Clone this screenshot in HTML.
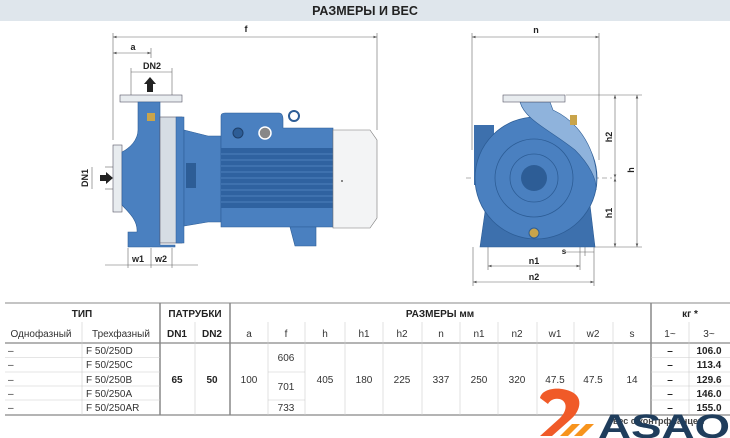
<!DOCTYPE html>
<html><head><meta charset="utf-8"><style>
html,body{margin:0;padding:0;background:#fff;}
svg{display:block;font-family:"Liberation Sans",sans-serif;}
</style></head><body>
<svg width="730" height="438" viewBox="0 0 730 438" xmlns="http://www.w3.org/2000/svg">
<defs>
<marker id="ar" markerWidth="6" markerHeight="6" refX="6" refY="3" orient="auto"><path d="M0,0.8 L6,3 L0,5.2z" fill="#555"/></marker>
<marker id="al" markerWidth="6" markerHeight="6" refX="0" refY="3" orient="auto"><path d="M6,0.8 L0,3 L6,5.2z" fill="#555"/></marker>
</defs>
<rect x="0" y="0" width="730" height="21" fill="#dfe6ec"/>
<text x="365" y="15" text-anchor="middle" font-size="12.5" font-weight="bold" fill="#222">РАЗМЕРЫ И ВЕС</text>

<!-- LEFT PUMP -->
<g stroke="#666" stroke-width="0.6" fill="none">
<line x1="113" y1="33" x2="113" y2="140"/><line x1="377" y1="33" x2="377" y2="130"/>
<line x1="113" y1="37" x2="377" y2="37" marker-start="url(#al)" marker-end="url(#ar)"/>
<line x1="113" y1="53" x2="151" y2="53" marker-start="url(#al)" marker-end="url(#ar)"/>
<line x1="151" y1="48" x2="151" y2="58"/>
<line x1="131" y1="72" x2="172" y2="72"/><line x1="131" y1="68" x2="131" y2="95"/><line x1="172" y1="68" x2="172" y2="95"/>
<line x1="105" y1="167" x2="113" y2="167"/><line x1="105" y1="189" x2="113" y2="189"/><line x1="92" y1="167" x2="92" y2="189"/>
<line x1="105" y1="265" x2="198" y2="265"/><line x1="128" y1="248" x2="128" y2="268"/><line x1="151" y1="248" x2="151" y2="268"/><line x1="172" y1="248" x2="172" y2="268"/>
</g>
<text x="246" y="32" font-size="9" font-weight="bold" text-anchor="middle" fill="#222">f</text>
<text x="133" y="50" font-size="9" font-weight="bold" text-anchor="middle" fill="#222">a</text>
<text x="152" y="69" font-size="9" font-weight="bold" text-anchor="middle" fill="#222">DN2</text>
<text x="138" y="262" font-size="9" font-weight="bold" text-anchor="middle" fill="#222">w1</text>
<text x="161" y="262" font-size="9" font-weight="bold" text-anchor="middle" fill="#222">w2</text>
<text transform="translate(88,178) rotate(-90)" font-size="9" font-weight="bold" text-anchor="middle" fill="#222">DN1</text>
<path d="M147,92 V84 H144 L150,77 L156,84 H153 V92z" fill="#222"/>
<path d="M100,175 H106 V172 L113,178 L106,184 V181 H100z" fill="#222"/>
<rect x="120" y="95" width="62" height="7" fill="#e8ecef" stroke="#556" stroke-width="0.6"/>
<rect x="113" y="145" width="9" height="67" fill="#e8ecef" stroke="#556" stroke-width="0.6"/>
<path d="M138,102 H160 V245 H175 V247 H128 V232 H137 C138,220 128,212 122,205 V152 C130,148 138,140 138,130z" fill="#4a80c0" stroke="#2d5d96" stroke-width="0.6"/>
<rect x="147" y="113" width="8" height="8" fill="#c9a44a"/>
<rect x="160" y="117" width="22" height="126" fill="#d6dde4" stroke="#556" stroke-width="0.6"/>
<rect x="176" y="117" width="8" height="126" fill="#4a80c0" stroke="#2d5d96" stroke-width="0.5"/>
<path d="M184,130 L208,136 H221 V222 H208 L184,226z" fill="#4a80c0" stroke="#2d5d96" stroke-width="0.6"/>
<rect x="186" y="163" width="10" height="25" fill="#2d5d96"/>
<path d="M221,116 Q221,113 225,113 H279 Q283,113 283,120 V128 H333 V227 H221z" fill="#4a80c0" stroke="#2d5d96" stroke-width="0.6"/>
<rect x="221" y="148" width="112" height="60" fill="#2f62a0"/>
<g stroke="#5a8bc6" stroke-width="0.8"><line x1="221" y1="154" x2="333" y2="154"/><line x1="221" y1="160" x2="333" y2="160"/><line x1="221" y1="166" x2="333" y2="166"/><line x1="221" y1="172" x2="333" y2="172"/><line x1="221" y1="178" x2="333" y2="178"/><line x1="221" y1="184" x2="333" y2="184"/><line x1="221" y1="190" x2="333" y2="190"/><line x1="221" y1="196" x2="333" y2="196"/><line x1="221" y1="202" x2="333" y2="202"/></g>
<circle cx="238" cy="133" r="5" fill="#2d5d96" stroke="#1e3f6a"/>
<circle cx="265" cy="133" r="6" fill="#888" stroke="#fff" stroke-width="1.5"/>
<circle cx="294" cy="116" r="5" fill="none" stroke="#2d5d96" stroke-width="2"/>
<path d="M290,227 H316 V246 H295z" fill="#4a80c0" stroke="#2d5d96" stroke-width="0.6"/>
<path d="M333,130 H370 L377,140 V218 L370,228 H333z" fill="#f3f4f5" stroke="#777" stroke-width="0.6"/>
<circle cx="342" cy="181" r="1" fill="#666"/>

<!-- RIGHT PUMP -->
<g stroke="#666" stroke-width="0.6" fill="none">
<line x1="472" y1="33" x2="472" y2="150"/><line x1="599" y1="33" x2="599" y2="160"/>
<line x1="472" y1="37" x2="599" y2="37" marker-start="url(#al)" marker-end="url(#ar)"/>
<line x1="566" y1="95" x2="642" y2="95"/><line x1="594" y1="247" x2="642" y2="247"/>
<line x1="615" y1="95" x2="615" y2="178" marker-start="url(#al)" marker-end="url(#ar)"/>
<line x1="615" y1="178" x2="615" y2="247" marker-start="url(#al)" marker-end="url(#ar)"/>
<line x1="637" y1="95" x2="637" y2="247" marker-start="url(#al)" marker-end="url(#ar)"/>
<line x1="466" y1="178" x2="612" y2="178" stroke-dasharray="5,3"/>
<line x1="473" y1="247" x2="473" y2="286"/><line x1="594" y1="247" x2="594" y2="286"/>
<line x1="488" y1="247" x2="488" y2="270"/><line x1="580" y1="247" x2="580" y2="270"/><line x1="585" y1="247" x2="585" y2="256"/>
<line x1="488" y1="266" x2="580" y2="266" marker-start="url(#al)" marker-end="url(#ar)"/>
<line x1="473" y1="282" x2="594" y2="282" marker-start="url(#al)" marker-end="url(#ar)"/>
<line x1="564" y1="252" x2="594" y2="252"/>
</g>
<text x="536" y="33" font-size="9" font-weight="bold" text-anchor="middle" fill="#222">n</text>
<text x="534" y="264" font-size="9" font-weight="bold" text-anchor="middle" fill="#222">n1</text>
<text x="534" y="280" font-size="9" font-weight="bold" text-anchor="middle" fill="#222">n2</text>
<text x="564" y="254" font-size="8" font-weight="bold" text-anchor="middle" fill="#222">s</text>
<text transform="translate(612,137) rotate(-90)" font-size="9" font-weight="bold" text-anchor="middle" fill="#222">h2</text>
<text transform="translate(612,213) rotate(-90)" font-size="9" font-weight="bold" text-anchor="middle" fill="#222">h1</text>
<text transform="translate(634,170) rotate(-90)" font-size="9" font-weight="bold" text-anchor="middle" fill="#222">h</text>
<path d="M480,247 L486,205 H590 L595,247z" fill="#3d70ad" stroke="#2d5d96" stroke-width="0.6"/>
<rect x="474" y="125" width="20" height="60" fill="#3d70ad"/>
<circle cx="536" cy="178" r="61" fill="#4a80c0" stroke="#2d5d96" stroke-width="0.8"/>
<circle cx="534" cy="178" r="39" fill="none" stroke="#2d5d96" stroke-width="0.8"/>
<circle cx="534" cy="178" r="24" fill="none" stroke="#2d5d96" stroke-width="0.8"/>
<circle cx="534" cy="178" r="13" fill="#2d5d96"/>
<path d="M520,102 C525,120 550,130 575,150 C590,165 597,180 596,190 C600,160 585,125 553,110 L550,102z" fill="#8fb3dc" stroke="#2d5d96" stroke-width="0.6"/>
<rect x="503" y="95" width="62" height="7" fill="#e8ecef" stroke="#556" stroke-width="0.6"/>
<rect x="570" y="115" width="7" height="10" fill="#c9a44a"/>
<circle cx="534" cy="233" r="5" fill="#c9a44a" stroke="#2d5d96"/>

<!-- TABLE -->
<g stroke="#888" fill="none">
<line x1="5" y1="303" x2="730" y2="303" stroke-width="1"/>
<line x1="5" y1="343" x2="730" y2="343" stroke-width="1.2"/>
<line x1="5" y1="415" x2="730" y2="415" stroke-width="1.2"/>
<line x1="160" y1="303" x2="160" y2="415" stroke-width="1.5"/>
<line x1="230" y1="303" x2="230" y2="415" stroke-width="1.5"/>
<line x1="651" y1="303" x2="651" y2="415" stroke-width="1.5"/>
</g>
<g stroke="#ccc" stroke-width="0.6" fill="none">
<line x1="82" y1="322" x2="82" y2="415"/><line x1="195" y1="322" x2="195" y2="415"/>
<line x1="268" y1="322" x2="268" y2="415"/><line x1="305" y1="322" x2="305" y2="415"/><line x1="345" y1="322" x2="345" y2="415"/><line x1="383" y1="322" x2="383" y2="415"/><line x1="422" y1="322" x2="422" y2="415"/><line x1="460" y1="322" x2="460" y2="415"/><line x1="498" y1="322" x2="498" y2="415"/><line x1="537" y1="322" x2="537" y2="415"/><line x1="574" y1="322" x2="574" y2="415"/><line x1="613" y1="322" x2="613" y2="415"/><line x1="689" y1="322" x2="689" y2="415"/>
<line x1="5" y1="357.5" x2="160" y2="357.5"/><line x1="5" y1="372" x2="160" y2="372"/><line x1="5" y1="386" x2="160" y2="386"/><line x1="5" y1="400" x2="160" y2="400"/>
<line x1="651" y1="357.5" x2="730" y2="357.5"/><line x1="651" y1="372" x2="730" y2="372"/><line x1="651" y1="386" x2="730" y2="386"/><line x1="651" y1="400" x2="730" y2="400"/>
<line x1="268" y1="372" x2="305" y2="372"/><line x1="268" y1="400" x2="305" y2="400"/>
</g>
<g font-size="10" fill="#222" font-weight="bold" text-anchor="middle">
<text x="82" y="317">ТИП</text><text x="195" y="317">ПАТРУБКИ</text><text x="440" y="317">РАЗМЕРЫ мм</text><text x="690" y="317">кг *</text>
<text x="177" y="337">DN1</text><text x="212" y="337">DN2</text>
<text x="177" y="383">65</text><text x="212" y="383">50</text>
</g>
<g font-size="10" fill="#333" text-anchor="middle">
<text x="41" y="337">Однофазный</text><text x="121" y="337">Трехфазный</text>
<text x="249" y="337">a</text><text x="286" y="337">f</text><text x="325" y="337">h</text><text x="364" y="337">h1</text><text x="402" y="337">h2</text><text x="441" y="337">n</text><text x="479" y="337">n1</text><text x="517" y="337">n2</text><text x="555" y="337">w1</text><text x="593" y="337">w2</text><text x="632" y="337">s</text><text x="670" y="337">1~</text><text x="709" y="337">3~</text>
<text x="249" y="383">100</text><text x="286" y="361">606</text><text x="286" y="390">701</text><text x="286" y="411">733</text>
<text x="325" y="383">405</text><text x="364" y="383">180</text><text x="402" y="383">225</text><text x="441" y="383">337</text><text x="479" y="383">250</text><text x="517" y="383">320</text><text x="555" y="383">47.5</text><text x="593" y="383">47.5</text><text x="632" y="383">14</text>
</g>
<g font-size="10" fill="#333">
<text x="8" y="354">–</text><text x="8" y="368">–</text><text x="8" y="383">–</text><text x="8" y="397">–</text><text x="8" y="411">–</text>
<text x="86" y="354">F 50/250D</text><text x="86" y="368">F 50/250C</text><text x="86" y="383">F 50/250B</text><text x="86" y="397">F 50/250A</text><text x="86" y="411">F 50/250AR</text>
</g>
<g font-size="10" fill="#222" font-weight="bold" text-anchor="middle">
<text x="670" y="354">–</text><text x="670" y="368">–</text><text x="670" y="383">–</text><text x="670" y="397">–</text><text x="670" y="411">–</text>
<text x="709" y="354">106.0</text><text x="709" y="368">113.4</text><text x="709" y="383">129.6</text><text x="709" y="397">146.0</text><text x="709" y="411">155.0</text>
</g>
<text x="613" y="424" font-size="9" font-weight="bold" fill="#444">вес с контрфланцем</text>
<path d="M540,398 C542,388 560,386 572,392 C584,398 580,412 570,420 L552,436 H540 L560,418 C566,412 568,404 562,400 C556,397 550,400 548,404z" fill="#f05a28"/>
<path d="M560,436 L572,424 H580 L568,436z M574,436 L586,424 H594 L582,436z" fill="#f7941d"/>
<text x="598" y="438" font-size="34" font-weight="bold" fill="#1f3d5c" textLength="132" lengthAdjust="spacingAndGlyphs">ASAO</text>
</svg>
</body></html>
